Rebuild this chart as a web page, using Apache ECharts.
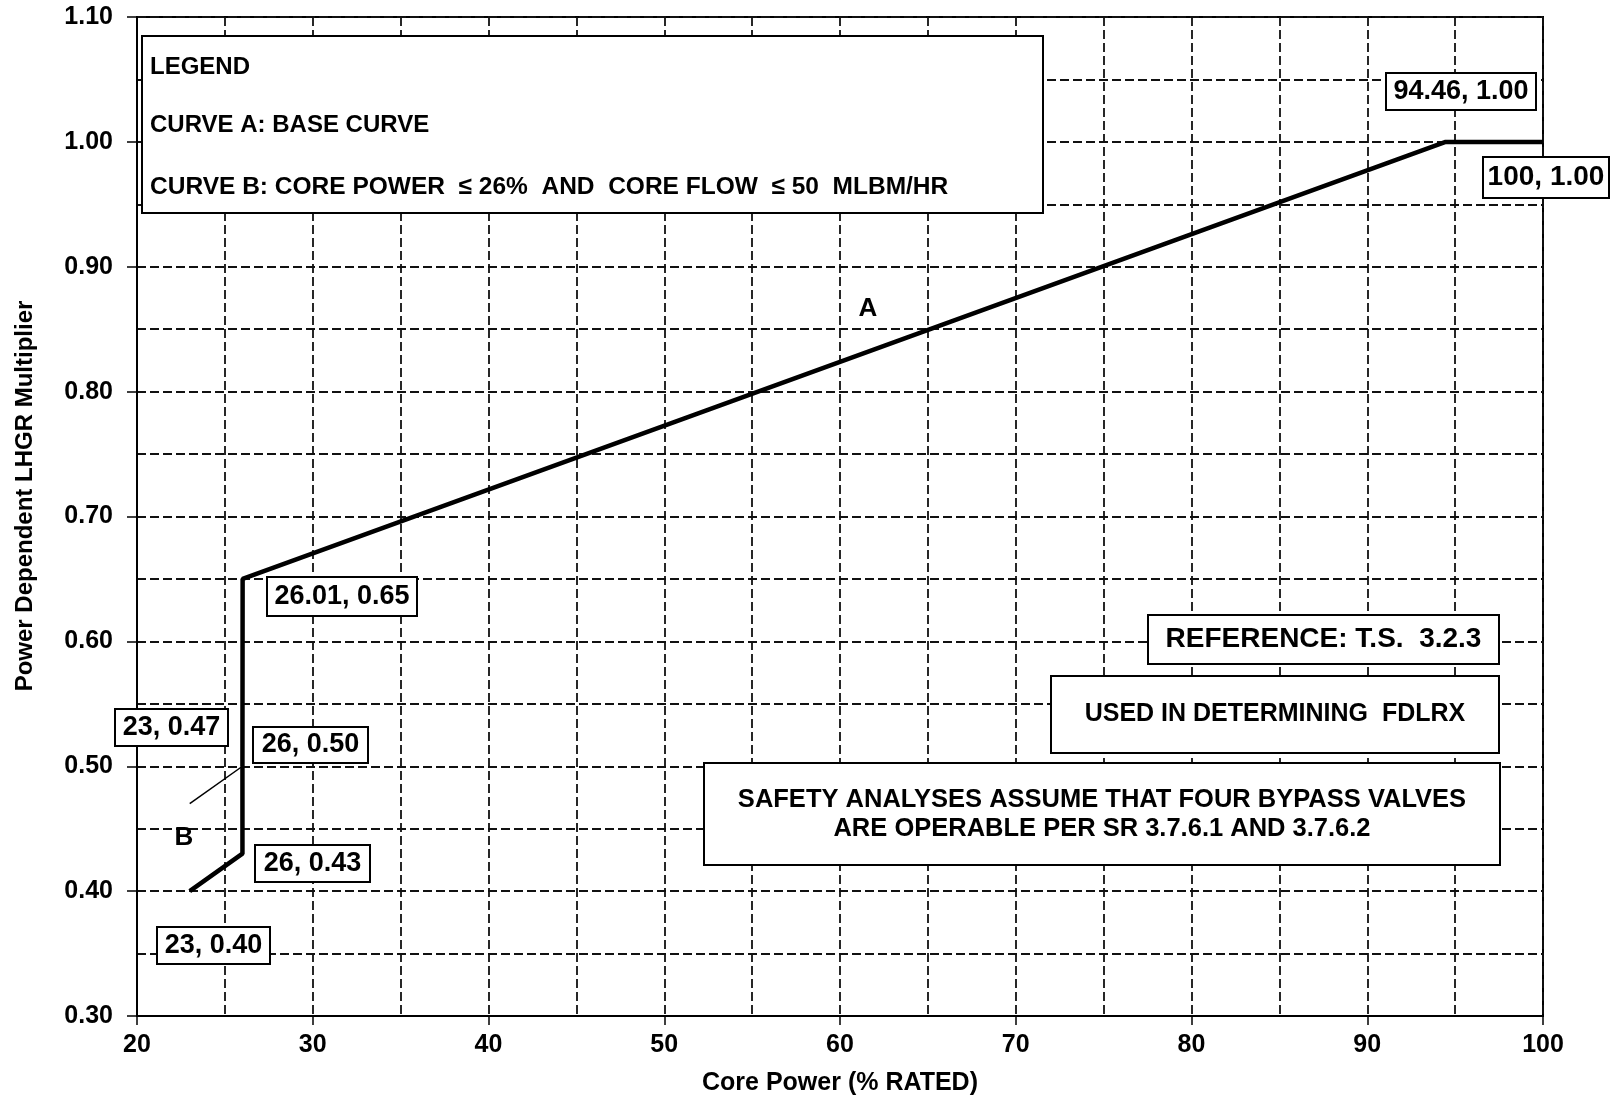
<!DOCTYPE html>
<html>
<head>
<meta charset="utf-8">
<script src="https://cdn.jsdelivr.net/npm/echarts@6/dist/echarts.min.js"></script>
<style>
html,body{margin:0;padding:0;background:#fff;}
#chart{width:1614px;height:1097px;}
</style>
</head>
<body>
<div id="chart"></div>
<script>
// ---- data ----
const xTicks = [20, 30, 40, 50, 60, 70, 80, 90, 100];
const yTicks = [0.30, 0.40, 0.50, 0.60, 0.70, 0.80, 0.90, 1.00, 1.10];
const curveAPower = [26, 26.01, 94.46, 100];
const curveAMult  = [0.50, 0.65, 1.00, 1.00];
const curveALowPower = [23, 26];
const curveALowMult  = [0.47, 0.50];
const curveBPower = [23, 26, 26];
const curveBMult  = [0.40, 0.43, 0.50];
const pointLabels = ['94.46, 1.00', '100, 1.00', '26.01, 0.65', '23, 0.47', '26, 0.50', '26, 0.43', '23, 0.40'];
const legendLines = ['LEGEND', 'CURVE A: BASE CURVE', 'CURVE B: CORE POWER  \u2264 26%  AND  CORE FLOW  \u2264 50  MLBM/HR'];
const notes = ['REFERENCE: T.S.  3.2.3', 'USED IN DETERMINING  FDLRX', 'SAFETY ANALYSES ASSUME THAT FOUR BYPASS VALVES\nARE OPERABLE PER SR 3.7.6.1 AND 3.7.6.2'];
const xTitle = 'Core Power (% RATED)';
const yTitle = 'Power Dependent LHGR Multiplier';

const zip = (a, b) => a.map((v, i) => [v, b[i]]);
const FONT = '"Liberation Sans", Arial, sans-serif';

function txt(x, y, text, size, align, lh) {
  return { type: 'text', z: 101, x: x, y: y,
    style: { text: text, font: 'bold ' + size + 'px ' + FONT, fill: '#000',
      align: align || 'center', verticalAlign: 'middle',
      textAlign: align || 'center', textVerticalAlign: 'middle',
      lineHeight: lh || size } };
}
function rect(x, y, w, h) {
  return { type: 'rect', z: 100, shape: { x: x, y: y, width: w, height: h },
    style: { fill: '#fff', stroke: '#000', lineWidth: 2 } };
}
function box(x, y, w, h, text, size, lh) {
  return [rect(x, y, w, h), txt(x + w / 2, y + h / 2, text, size, 'center', lh)];
}

const gridStyle = { color: '#111', width: 1.8, type: [9, 4] };

const chart = echarts.init(document.getElementById('chart'), null, { renderer: 'canvas' });
const graphics = [].concat(
  [rect(142, 36, 901, 177),
   txt(150, 67, legendLines[0], 24, 'left'),
   txt(150, 125, legendLines[1], 24, 'left'),
   txt(150, 187, legendLines[2], 24.5, 'left')],
  box(1386, 73, 150, 37, pointLabels[0], 27),
  box(1483, 157, 126, 41, pointLabels[1], 28),
  box(267, 577, 150, 39, pointLabels[2], 27),
  box(115, 709, 113, 37, pointLabels[3], 27),
  box(253, 727, 115, 36, pointLabels[4], 27),
  box(255, 845, 115, 37, pointLabels[5], 27),
  box(157, 927, 113, 37, pointLabels[6], 27),
  box(1148, 615, 351, 49, notes[0], 28),
  box(1051, 676, 448, 77, notes[1], 25),
  box(704, 763, 796, 102, notes[2], 25.5, 29),
  [txt(868, 309, 'A', 26), txt(184, 838, 'B', 26)],
  [{ type: 'text', z: 101, x: 25, y: 496, rotation: Math.PI / 2,
     style: { text: yTitle, font: 'bold 24px ' + FONT, fill: '#000',
       align: 'center', verticalAlign: 'middle', textAlign: 'center', textVerticalAlign: 'middle' } }]
);

chart.setOption({
  backgroundColor: '#fff',
  animation: false,
  grid: { left: 137, right: 71, top: 17, bottom: 81, containLabel: false, outerBoundsMode: 'none',
    show: true, borderColor: '#000', borderWidth: 2, backgroundColor: 'transparent' },
  xAxis: {
    type: 'value', min: xTicks[0], max: xTicks[xTicks.length - 1], interval: 10,
    name: xTitle, nameLocation: 'middle', nameGap: 55,
    nameTextStyle: { fontFamily: FONT, fontWeight: 'bold', fontSize: 25, color: '#000' },
    axisLine: { show: true, lineStyle: { color: '#000', width: 2 } },
    axisTick: { show: true, length: 9, lineStyle: { color: '#000', width: 1.5 } },
    axisLabel: { margin: 17, fontFamily: FONT, fontWeight: 'bold', fontSize: 25, color: '#000' },
    splitLine: { show: true, lineStyle: gridStyle },
    minorTick: { show: false, splitNumber: 2 },
    minorSplitLine: { show: true, lineStyle: gridStyle }
  },
  yAxis: {
    type: 'value', min: yTicks[0], max: yTicks[yTicks.length - 1], interval: 0.1,
    axisLine: { show: true, lineStyle: { color: '#000', width: 2 } },
    axisTick: { show: true, length: 10, lineStyle: { color: '#000', width: 1.5 } },
    axisLabel: { margin: 24, fontFamily: FONT, fontWeight: 'bold', fontSize: 25, color: '#000',
      formatter: v => v.toFixed(2) },
    splitLine: { show: true, lineStyle: gridStyle },
    minorTick: { show: false, splitNumber: 2 },
    minorSplitLine: { show: true, lineStyle: gridStyle }
  },
  series: [
    { name: 'A', type: 'line', data: zip(curveAPower, curveAMult), symbol: 'none',
      lineStyle: { color: '#000', width: 4.5 }, z: 10 },
    { name: 'A low', type: 'line', data: zip(curveALowPower, curveALowMult), symbol: 'none',
      lineStyle: { color: '#000', width: 1.5 }, z: 10 },
    { name: 'B', type: 'line', data: zip(curveBPower, curveBMult), symbol: 'none',
      lineStyle: { color: '#000', width: 4.5 }, z: 10 }
  ],
  graphic: graphics
});
</script>
</body>
</html>
